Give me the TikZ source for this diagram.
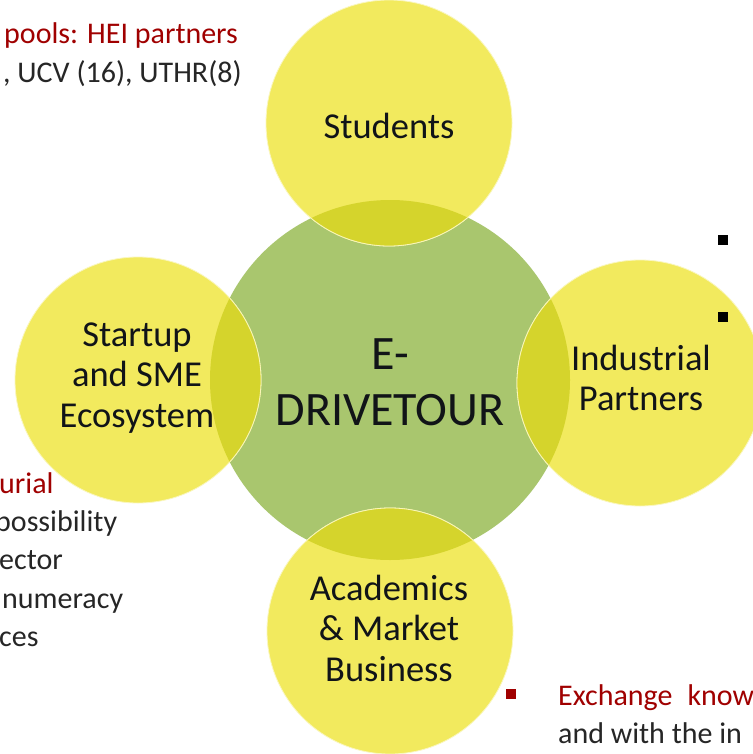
\documentclass[tikz,border=0pt]{standalone}
\usepackage{fontspec}
\setmainfont{Carlito}
\definecolor{hubgreen}{HTML}{A9C66E}
\definecolor{blobyellow}{HTML}{F2EA5E}
\definecolor{lensyellow}{HTML}{D5D42C}
\definecolor{slidered}{HTML}{A00000}
\definecolor{slidetext}{HTML}{262626}
\definecolor{circink}{HTML}{111418}

\begin{document}
\begin{tikzpicture}[x=1pt, y=-1pt,
	blob/.style = {fill=blobyellow, draw=white!60!blobyellow, line width=0.8pt},
	lens/.style = {fill=lensyellow, draw=white!55!blobyellow, line width=0.8pt},
	circtext/.style = {align=center, text=circink, inner sep=0pt, font=\fontsize{36.5}{40.5}\selectfont},
	slide/.style = {anchor=base west, inner sep=0pt, text=slidetext, font=\fontsize{30}{36}\selectfont},
	slidehead/.style = {slide, text=slidered},
	bullet/.style = {fill, minimum size=10pt, inner sep=0pt}]
	\useasboundingbox (0,0) rectangle (752,754);
	\fill[white] (0,0) rectangle (752,754);

	% centres of the circles
	\coordinate (hub) at (390,380);
	\coordinate (stud) at (389,123);
	\coordinate (start) at (138,380);
	\coordinate (indu) at (640,383);
	\coordinate (acad) at (390,631);

	\fill[hubgreen] (hub) circle[radius=180];
	\foreach \c in {stud,start,indu,acad}
		\filldraw[blob] (\c) circle[radius=123];
	\begin{scope}
		\clip (hub) circle[radius=180];
		\foreach \c in {stud,start,indu,acad}
			\filldraw[lens] (\c) circle[radius=123];
	\end{scope}

	% labels
	\node[circtext, font=\fontsize{48}{56}\selectfont] (hubtxt) at (390,382) {E-\\DRIVETOUR};
	\node[circtext] (studtxt) at (389,126) {Students};
	\node[circtext] (starttxt) at (137,378) {Startup\\and SME\\Ecosystem};
	\node[circtext] (indutxt) at (641,378) {Industrial\\Partners};
	\node[circtext] (acadtxt) at (389,628) {Academics\\\&\ Market\\Business};

	% slide text behind
	\node[slidehead] (hei) at (4,44) {pools: HEI partners};
	\node[slide] (ucv) at (3,83) {, UCV (16), UTHR(8)};
	\node[slidehead] (urial) at (-1,493) {urial};
	\node[slide] (poss) at (-5,531) {possibility};
	\node[slide] (ector) at (-1,569) {ector};
	\node[slide] (numer) at (2,608) {numeracy};
	\node[slide] (ces) at (-1,646) {ces};
	\node[slidehead] (exch) at (558,705) {Exchange\hspace{15pt}know};
	\node[slide] (andw) at (558,743) {and with the in};
	\node[bullet, fill=black] (b1) at (723,240) {};
	\node[bullet, fill=black] (b2) at (723,317) {};
	\node[bullet, fill=slidered] (b3) at (511,694) {};
\end{tikzpicture}
\end{document}
